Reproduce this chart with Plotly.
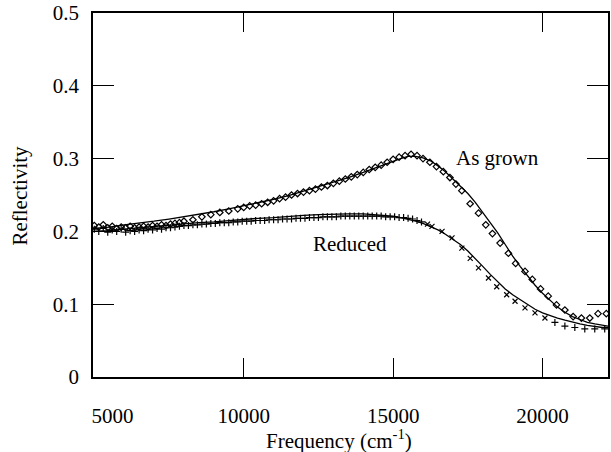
import plotly.graph_objects as go

# ---- data ----
grown_freq = [5000, 5150, 5300, 5450, 5600, 5750, 5900, 6050, 6200, 6350,
              6500, 6650, 6800, 6950, 7100, 7250, 7400, 7550, 7700, 7850,
              8000, 8300, 8600, 8900, 9200, 9500, 9800, 10000, 10200, 10400,
              10600, 10800, 11000, 11200, 11400, 11600, 11800, 12000, 12200, 12400,
              12600, 12800, 13000, 13200, 13400, 13600, 13800, 14000, 14200, 14400,
              14600, 14800, 15000, 15200, 15400, 15600, 15800, 16000, 16230, 16450,
              16680, 16900, 17100, 17300, 17577, 17857, 18100, 18323, 18580, 18857,
              19100, 19413, 19657, 19933, 20190, 20467, 20747, 21023, 21300, 21580,
              21857, 22133]
grown_refl = [0.208, 0.206, 0.209, 0.205, 0.207, 0.204, 0.206, 0.205, 0.207, 0.205,
              0.206, 0.207, 0.206, 0.208, 0.207, 0.209, 0.208, 0.210, 0.211, 0.212,
              0.214, 0.216, 0.220, 0.223, 0.226, 0.228, 0.231, 0.233, 0.235, 0.236,
              0.238, 0.240, 0.242, 0.245, 0.247, 0.250, 0.252, 0.254, 0.256, 0.258,
              0.261, 0.263, 0.266, 0.269, 0.272, 0.275, 0.278, 0.281, 0.285, 0.288,
              0.291, 0.295, 0.299, 0.302, 0.304, 0.306, 0.304, 0.300, 0.295, 0.289,
              0.282, 0.274, 0.265, 0.256, 0.238, 0.225, 0.209, 0.197, 0.184, 0.170,
              0.156, 0.145, 0.134, 0.121, 0.111, 0.099, 0.092, 0.083, 0.081, 0.081,
              0.087, 0.087]

reduced_plus_freq = [5000, 5150, 5300, 5450, 5600, 5750, 5900, 6050, 6200, 6350,
                     6500, 6650, 6800, 6950, 7100, 7250, 7400, 7550, 7700, 7850,
                     8000, 8150, 8300, 8450, 8600, 8750, 8900, 9050, 9200, 9350,
                     9500, 9650, 9800, 9950, 10100, 10250, 10400, 10550, 10700, 10850,
                     11000, 11150, 11300, 11450, 11600, 11750, 11900, 12050, 12200, 12350,
                     12500, 12650, 12800, 12950, 13100, 13250, 13400, 13550, 13700, 13850,
                     14000, 14150, 14300, 14450, 14600, 14750, 14900, 15050, 15200, 15350,
                     15500, 15650, 15800, 15950,
                     20413, 20747, 21080, 21413, 21747, 22080]
reduced_plus_refl = [0.203, 0.200, 0.204, 0.199, 0.202, 0.200, 0.203, 0.199, 0.201, 0.200,
                     0.202, 0.201, 0.203, 0.202, 0.204, 0.203, 0.205, 0.205, 0.206, 0.207,
                     0.208, 0.208, 0.209, 0.209, 0.210, 0.210, 0.211, 0.211, 0.212, 0.212,
                     0.212, 0.213, 0.213, 0.214, 0.214, 0.214, 0.215, 0.215, 0.215, 0.216,
                     0.216, 0.216, 0.217, 0.217, 0.217, 0.218, 0.218, 0.218, 0.219, 0.219,
                     0.219, 0.220, 0.220, 0.220, 0.220, 0.221, 0.221, 0.221, 0.221, 0.221,
                     0.221, 0.221, 0.221, 0.221, 0.221, 0.220, 0.220, 0.220, 0.219, 0.219,
                     0.218, 0.217, 0.215, 0.213,
                     0.075, 0.070, 0.068, 0.066, 0.066, 0.066]

reduced_x_freq = [16150, 16300, 16637, 16970, 17300, 17580, 17857, 18190, 18467, 18800,
                  19080, 19413, 19747, 20080]
reduced_x_refl = [0.210, 0.207, 0.200, 0.191, 0.177, 0.163, 0.150, 0.136, 0.124, 0.113,
                  0.104, 0.095, 0.088, 0.081]

fit_freq = [4957, 5500, 6000, 6500, 7000, 7500, 8000, 8500, 9000, 9500,
            10000, 10500, 11000, 11500, 12000, 12500, 13000, 13500, 14000, 14500,
            15000, 15250, 15500, 15750, 16000, 16250, 16500, 16750, 17000, 17250,
            17500, 17750, 18000, 18250, 18500, 18750, 19000, 19250, 19500, 19750,
            20000, 20250, 20500, 20750, 21000, 21250, 21500, 21750, 22000, 22190]
fit_grown = [0.204, 0.206, 0.209, 0.211, 0.214, 0.217, 0.220, 0.223, 0.227, 0.231,
             0.235, 0.239, 0.244, 0.249, 0.255, 0.261, 0.267, 0.274, 0.281, 0.289,
             0.297, 0.300, 0.303, 0.303, 0.301, 0.297, 0.290, 0.282, 0.272, 0.262,
             0.252, 0.240, 0.226, 0.212, 0.198, 0.182, 0.166, 0.152, 0.139, 0.126,
             0.115, 0.105, 0.096, 0.089, 0.083, 0.079, 0.075, 0.073, 0.071, 0.070]
fit_reduced = [0.200, 0.201, 0.203, 0.205, 0.206, 0.208, 0.210, 0.212, 0.213, 0.215,
               0.216, 0.218, 0.219, 0.221, 0.222, 0.223, 0.224, 0.224, 0.224, 0.223,
               0.221, 0.219, 0.217, 0.214, 0.211, 0.207, 0.202, 0.196, 0.189, 0.182,
               0.173, 0.163, 0.152, 0.141, 0.131, 0.121, 0.113, 0.106, 0.099, 0.093,
               0.088, 0.084, 0.081, 0.078, 0.075, 0.073, 0.071, 0.069, 0.068, 0.068]

x_ticks = [10000, 15000, 20000]
x_first_label = "5000"
x_first_label_pos = 5607  # the "5000" label is printed just inside the frame edge
y_ticks = [0, 0.1, 0.2, 0.3, 0.4, 0.5]
y_tick_text = ["0", "0.1", "0.2", "0.3", "0.4", "0.5"]

FONT = '"Liberation Serif", "Times New Roman", Times, serif'
FS = 21

W, H = 611, 452
L, R, T, B = 93, 1, 12, 74.5
PW, PH = W - L - R, H - T - B
X_RANGE = [4957, 22190]


def px_x(p):
    return (p - L) / PW


def px_y(p):
    return 1 - (p - T) / PH


fig = go.Figure()
fig.add_trace(go.Scatter(x=fit_freq, y=fit_grown, mode="lines",
                         line=dict(color="black", width=1.3), showlegend=False))
fig.add_trace(go.Scatter(x=fit_freq, y=fit_reduced, mode="lines",
                         line=dict(color="black", width=1.3), showlegend=False))
fig.add_trace(go.Scatter(x=grown_freq, y=grown_refl, mode="markers",
                         marker=dict(symbol="diamond-open", size=5, color="black",
                                     line=dict(width=1.2, color="black")),
                         showlegend=False))
fig.add_trace(go.Scatter(x=reduced_plus_freq, y=reduced_plus_refl, mode="markers",
                         marker=dict(symbol="cross-thin-open", size=5, color="black",
                                     line=dict(width=1.2, color="black")),
                         showlegend=False))
fig.add_trace(go.Scatter(x=reduced_x_freq, y=reduced_x_refl, mode="markers",
                         marker=dict(symbol="x-thin-open", size=5, color="black",
                                     line=dict(width=1.2, color="black")),
                         showlegend=False))
# invisible helper trace so the secondary x axis (carrying the "5000" label) is drawn
fig.add_trace(go.Scatter(x=[x_first_label_pos], y=[None], xaxis="x2", mode="markers",
                         marker=dict(opacity=0), showlegend=False, hoverinfo="skip"))

txt = dict(family=FONT, size=FS, color="black")
fig.add_annotation(x=18507, y=0.301, text="As grown", showarrow=False,
                   xref="x", yref="y", xanchor="center", yanchor="middle", font=txt)
fig.add_annotation(x=13557, y=0.183, text="Reduced", showarrow=False,
                   xref="x", yref="y", xanchor="center", yanchor="middle", font=txt)
fig.add_annotation(x=px_x(340), y=px_y(440.5), text="Frequency (cm<sup>-1</sup>)",
                   showarrow=False, xref="paper", yref="paper",
                   xanchor="center", yanchor="middle", font=txt)
fig.add_annotation(x=px_x(20), y=px_y(195), text="Reflectivity", showarrow=False,
                   textangle=-90, xref="paper", yref="paper",
                   xanchor="center", yanchor="middle", font=txt)

fig.update_layout(
    width=W, height=H,
    margin=dict(l=L, r=R, t=T, b=B, pad=0),
    paper_bgcolor="white", plot_bgcolor="white",
    font=txt,
    xaxis=dict(range=X_RANGE, tickvals=x_ticks, ticktext=[str(v) for v in x_ticks],
               ticks="inside", ticklen=19, tickwidth=1.3, tickcolor="black",
               showline=True, linecolor="black", linewidth=1.6, mirror="ticks",
               showgrid=False, zeroline=False, ticklabelstandoff=19,
               tickfont=txt),
    xaxis2=dict(range=X_RANGE, overlaying="x", side="bottom", anchor="y",
                tickvals=[x_first_label_pos], ticktext=[x_first_label],
                ticks="inside", ticklen=0, tickwidth=0, tickcolor="rgba(0,0,0,0)",
                showline=False, showgrid=False, zeroline=False,
                ticklabelstandoff=24, tickfont=txt),
    yaxis=dict(range=[0, 0.5], tickvals=y_ticks, ticktext=y_tick_text,
               ticks="inside", ticklen=21, tickwidth=1.3, tickcolor="black",
               showline=True, linecolor="black", linewidth=1.6, mirror="ticks",
               showgrid=False, zeroline=False, ticklabelstandoff=8,
               tickfont=txt),
)

fig.write_html("out.html")
